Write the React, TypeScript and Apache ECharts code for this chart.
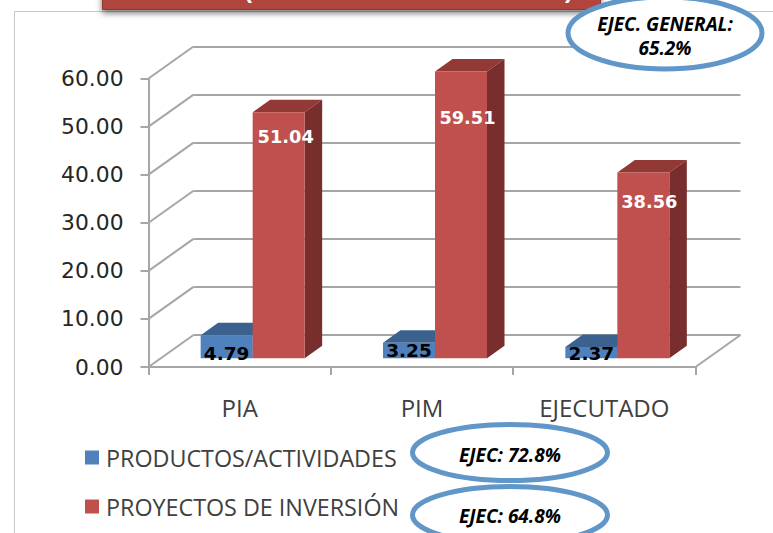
import React, { useEffect, useRef } from "react";
import * as echarts from "echarts";

const categories = ["PIA", "PIM", "EJECUTADO"];
const productosName = "PRODUCTOS/ACTIVIDADES";
const proyectosName = "PROYECTOS DE INVERSIÓN";
const productos = [4.79, 3.25, 2.37];
const proyectos = [51.04, 59.51, 38.56];
const yTicks = [0, 10, 20, 30, 40, 50, 60];

const NUM_FONT = "'DejaVu Sans'";
const TXT_FONT = "'Open Sans'";
const GRID_COLOR = "#a6a6a6";
const ELLIPSE = "#6096c8";
const BAR_W = 52;
const BAR_DX = 17.5;
const BAR_DY = 12.5;
const WALL_DX = 45;
const WALL_DY = 32;

// label placement relative to the top-left of each bar's front face
const redLabelDy = [15, 37, 20];
const redLabelDx = [BAR_W / 2 + 7, BAR_W / 2 + 6.5, BAR_W / 2 + 6];
const blueLabelDy = [9, -2, -3];
const blueLabelDx = [BAR_W / 2, BAR_W / 2, BAR_W / 2];

function cuboid(side: "left" | "right", colors: { top: string; side: string }) {
  return (params: any, api: any) => {
    const idx = api.value(0);
    const val = api.value(1);
    const [cx, yTop] = api.coord([idx, val]);
    const [, yBase] = api.coord([idx, 0]);
    const x0 = side === "left" ? cx - BAR_W : cx;
    const x1 = x0 + BAR_W;
    return {
      type: "group",
      children: [
        {
          type: "polygon",
          shape: {
            points: [
              [x0, yTop],
              [x1, yTop],
              [x1 + BAR_DX, yTop - BAR_DY],
              [x0 + BAR_DX, yTop - BAR_DY],
            ],
          },
          style: { fill: colors.top },
        },
        {
          type: "polygon",
          shape: {
            points: [
              [x1, yTop],
              [x1 + BAR_DX, yTop - BAR_DY],
              [x1 + BAR_DX, yBase - BAR_DY],
              [x1, yBase],
            ],
          },
          style: { fill: colors.side },
        },
      ],
    };
  };
}

function diagonals(params: any, api: any) {
  const v = api.value(1);
  const y = api.coord([0, v])[1];
  const xs = [params.coordSys.x];
  if (v === 0) xs.push(params.coordSys.x + params.coordSys.width);
  return {
    type: "group",
    children: xs.map((x: number) => ({
      type: "line",
      shape: { x1: x, y1: y, x2: x + WALL_DX, y2: y - WALL_DY },
      style: { stroke: GRID_COLOR, lineWidth: 2, fill: "none" },
    })),
  };
}

function ellipseGroup(cx: number, cy: number, rx: number, ry: number, lines: string[], textY: number) {
  return [
    {
      type: "ellipse",
      shape: { cx, cy, rx, ry },
      style: { fill: "#ffffff", stroke: ELLIPSE, lineWidth: 5 },
      z: 20,
    },
    ...lines.map((t, i) => ({
      type: "text",
      x: cx,
      y: textY + i * 24,
      z: 21,
      style: {
        text: t,
        fill: "#000000",
        font: `italic bold 19px ${TXT_FONT}`,
        textAlign: "center",
        textVerticalAlign: "middle",
      },
    })),
  ];
}

export default function App() {
  const ref = useRef<HTMLDivElement>(null);
  useEffect(() => {
    const chart = echarts.init(ref.current!, null, { renderer: "svg" });
    chart.setOption({
      animation: false,
      backgroundColor: "#ffffff",
      legend: {
        data: [productosName, proyectosName],
        orient: "vertical",
        left: 80,
        top: 441,
        itemWidth: 14,
        itemHeight: 14,
        itemGap: 26,
        icon: "rect",
        textStyle: { fontFamily: TXT_FONT, fontSize: 23.3, color: "#404040", padding: [0, 0, 0, 2] },
      },
      grid: [
        { left: 148.5, width: 547, top: 78.5, height: 288.5 },
        { left: 193.5, width: 547, top: 46.5, height: 288.5 },
        { left: 161.5, width: 547, top: 69.1, height: 289.2 },
      ],
      xAxis: [
        {
          gridIndex: 0,
          type: "category",
          data: categories,
          axisLine: { lineStyle: { color: GRID_COLOR, width: 2 } },
          axisTick: { show: true, length: 8, alignWithLabel: false, lineStyle: { color: GRID_COLOR, width: 2 } },
          axisLabel: { fontFamily: TXT_FONT, fontSize: 24, color: "#404040", margin: 28 },
        },
        {
          gridIndex: 1,
          type: "category",
          data: categories,
          axisLine: { show: false },
          axisTick: { show: false },
          axisLabel: { show: false },
        },
        {
          gridIndex: 2,
          type: "category",
          data: categories,
          axisLine: { show: false },
          axisTick: { show: false },
          axisLabel: { show: false },
        },
      ],
      yAxis: [
        {
          gridIndex: 0,
          type: "value",
          min: 0,
          max: 60,
          interval: 10,
          axisLine: { show: true, lineStyle: { color: GRID_COLOR, width: 2 } },
          axisTick: { show: true, length: 8, lineStyle: { color: GRID_COLOR, width: 2 } },
          axisLabel: {
            fontFamily: NUM_FONT,
            fontSize: 21.8,
            color: "#262626",
            margin: 25,
            padding: [2, 0, 0, 0],
            formatter: (v: number) => v.toFixed(2),
          },
          splitLine: { show: false },
        },
        {
          gridIndex: 1,
          type: "value",
          min: 0,
          max: 60,
          interval: 10,
          axisLine: { show: false },
          axisTick: { show: false },
          axisLabel: { show: false },
          splitLine: { show: true, lineStyle: { color: GRID_COLOR, width: 2 } },
        },
        {
          gridIndex: 2,
          type: "value",
          min: 0,
          max: 60,
          interval: 10,
          axisLine: { show: false },
          axisTick: { show: false },
          axisLabel: { show: false },
          splitLine: { show: false },
        },
      ],
      series: [
        {
          type: "custom",
          name: "diagonales",
          xAxisIndex: 0,
          yAxisIndex: 0,
          data: yTicks.map((v) => [0, v]),
          renderItem: diagonals,
          silent: true,
          z: 1,
          clip: false,
        },
        {
          type: "custom",
          name: "prod3d",
          xAxisIndex: 2,
          yAxisIndex: 2,
          data: productos.map((v, i) => [i, v]),
          renderItem: cuboid("left", { top: "#3b628f", side: "#2f4f75" }),
          z: 3,
          clip: false,
        },
        {
          type: "bar",
          name: productosName,
          xAxisIndex: 2,
          yAxisIndex: 2,
          data: productos.map((v, i) => ({
            value: v,
            label: { position: [blueLabelDx[i], blueLabelDy[i]] as any },
          })),
          barWidth: BAR_W,
          barGap: 0,
          itemStyle: { color: "#4f81bd" },
          z: 4,
          label: {
            show: true,
            color: "#000000",
            fontFamily: NUM_FONT,
            fontWeight: "bold",
            fontSize: 18.5,
            align: "center",
            formatter: (p: any) => Number(p.value).toFixed(2),
          },
        },
        {
          type: "custom",
          name: "proy3d",
          xAxisIndex: 2,
          yAxisIndex: 2,
          data: proyectos.map((v, i) => [i, v]),
          renderItem: cuboid("right", { top: "#923936", side: "#772e2c" }),
          z: 5,
          clip: false,
        },
        {
          type: "bar",
          name: proyectosName,
          xAxisIndex: 2,
          yAxisIndex: 2,
          data: proyectos.map((v, i) => ({
            value: v,
            label: { position: [redLabelDx[i], redLabelDy[i]] as any },
          })),
          barWidth: BAR_W,
          barGap: 0,
          itemStyle: { color: "#c0504d" },
          z: 6,
          label: {
            show: true,
            color: "#ffffff",
            fontFamily: NUM_FONT,
            fontWeight: "bold",
            fontSize: 17.8,
            align: "center",
            formatter: (p: any) => Number(p.value).toFixed(2),
          },
        },
      ],
      graphic: [
        {
          type: "rect",
          shape: { x: 14.5, y: 11.5, width: 770, height: 540 },
          style: { fill: "none", stroke: "#c8c8c8", lineWidth: 1 },
          z: 0,
          silent: true,
        },
        {
          type: "rect",
          shape: { x: 102.5, y: -10, width: 498, height: 19.5 },
          style: {
            fill: "#b0453c",
            stroke: "#8f3a33",
            lineWidth: 1,
            shadowBlur: 6,
            shadowOffsetY: 3,
            shadowColor: "rgba(0,0,0,0.55)",
          },
          z: 10,
        },
        {
          type: "text",
          x: 248,
          y: -11,
          z: 11,
          style: { text: "(", fill: "#ffffff", font: "bold 24px 'Liberation Sans'", textAlign: "center", textVerticalAlign: "middle" },
        },
        {
          type: "text",
          x: 569,
          y: -11,
          z: 11,
          style: { text: ")", fill: "#ffffff", font: "bold 24px 'Liberation Sans'", textAlign: "center", textVerticalAlign: "middle" },
        },
        ...ellipseGroup(665, 33, 97, 36, ["EJEC. GENERAL:", "65.2%"], 23.5),
        ...ellipseGroup(510, 515, 97.5, 28.5, ["EJEC: 64.8%"], 516),
        ...ellipseGroup(510, 452.5, 97.5, 28, ["EJEC: 72.8%"], 455),
      ],
    });
    return () => chart.dispose();
  }, []);
  return (
    <div
      ref={ref}
      style={{ position: "absolute", left: 0, top: 0, width: 773, height: 533, overflow: "hidden" }}
    />
  );
}
